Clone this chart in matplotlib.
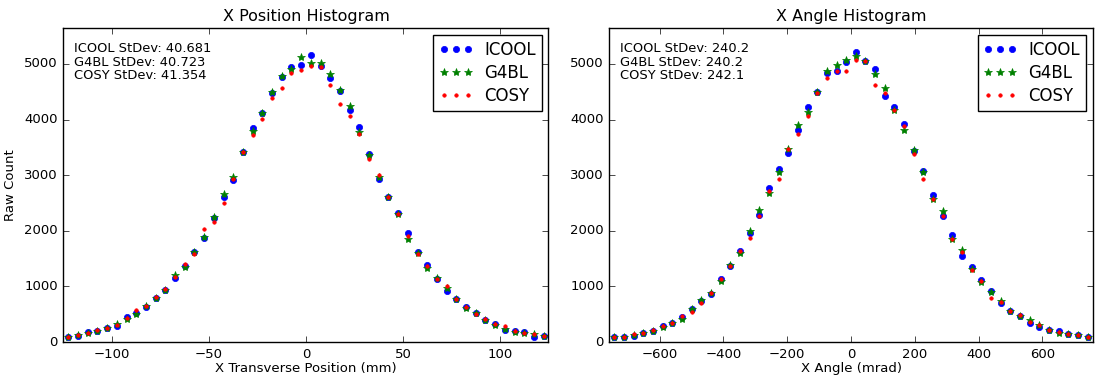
import numpy as np
import matplotlib
matplotlib.use('Agg')
import matplotlib.pyplot as plt

# histogram bins (centres from edges)
pos_lo, pos_hi, n_bins = -125.0, 125.0, 50
ang_lo, ang_hi = -757.5, 757.5

icool_pos = [95, 113, 174, 192, 257, 293, 455, 515, 635, 797, 928, 1144, 1366, 1617, 1863, 2234, 2611, 2911,
             3420, 3851, 4121, 4480, 4774, 4950, 4981, 5166, 4966, 4744, 4517, 4169, 3863, 3378, 2923, 2606,
             2324, 1953, 1617, 1378, 1132, 916, 778, 629, 527, 390, 329, 221, 192, 180, 95, 113]
g4bl_pos = [95, 125, 156, 204, 257, 323, 419, 509, 640, 800, 940, 1204, 1354, 1623, 1892, 2252, 2654, 2959,
            3420, 3792, 4121, 4490, 4780, 4918, 5133, 5010, 5019, 4828, 4528, 4253, 3774, 3355, 2971, 2600,
            2306, 1851, 1600, 1330, 1156, 970, 770, 620, 520, 395, 315, 239, 185, 162, 144, 113]
cosy_pos = [100, 126, 156, 216, 257, 305, 425, 569, 646, 803, 958, 1162, 1396, 1581, 2025, 2162, 2503, 2929,
            3420, 3714, 4013, 4379, 4559, 4839, 4893, 4959, 4940, 4613, 4289, 4056, 3732, 3294, 2995, 2606,
            2306, 1905, 1576, 1366, 1126, 1006, 778, 629, 503, 413, 329, 282, 192, 168, 138, 113]

icool_ang = [95, 84, 113, 167, 203, 282, 341, 449, 593, 743, 868, 1132, 1360, 1641, 1953, 2282, 2773, 3103,
             3402, 3810, 4228, 4498, 4846, 4875, 5031, 5206, 5058, 4906, 4426, 4235, 3912, 3432, 3070, 2650,
             2264, 1917, 1540, 1353, 1114, 916, 695, 563, 473, 341, 264, 221, 198, 149, 126, 95]
g4bl_ang = [95, 90, 120, 167, 203, 267, 335, 407, 590, 750, 875, 1102, 1380, 1600, 1995, 2378, 2672, 3055,
            3468, 3905, 4138, 4498, 4882, 4978, 5080, 5139, 5062, 4816, 4559, 4169, 3815, 3456, 3060, 2575,
            2354, 1851, 1648, 1317, 1078, 893, 743, 563, 473, 390, 311, 221, 156, 140, 126, 95]
cosy_ang = [100, 95, 149, 167, 210, 298, 345, 467, 545, 695, 875, 1132, 1360, 1641, 1869, 2264, 2713, 2924,
            3463, 3738, 4073, 4480, 4739, 4870, 4870, 5073, 5062, 4618, 4469, 4181, 3881, 3390, 2924, 2564,
            2264, 1851, 1617, 1288, 1090, 791, 713, 563, 480, 359, 300, 225, 190, 149, 126, 100]

pos_text = 'ICOOL StDev: 40.681\nG4BL StDev: 40.723\nCOSY StDev: 41.354'
ang_text = 'ICOOL StDev: 240.2\nG4BL StDev: 240.2\nCOSY StDev: 242.1'

def centres(lo, hi, n):
    edges = np.linspace(lo, hi, n + 1)
    return 0.5 * (edges[:-1] + edges[1:])

plt.style.use('classic')
plt.rcParams['figure.facecolor'] = 'white'
plt.rcParams['savefig.facecolor'] = 'white'
plt.rcParams['font.family'] = 'DejaVu Sans'

fig = plt.figure(figsize=(10.98, 3.78), dpi=100)
ax1 = fig.add_axes([0.0578, 0.095, 0.4417, 0.830])
ax2 = fig.add_axes([0.5551, 0.095, 0.4399, 0.830])

panels = [
    (ax1, centres(pos_lo, pos_hi, n_bins), icool_pos, g4bl_pos, cosy_pos, pos_text,
     'X Position Histogram', 'X Transverse Position (mm)', (pos_lo, pos_hi), [-100, -50, 0, 50, 100]),
    (ax2, centres(ang_lo, ang_hi, n_bins), icool_ang, g4bl_ang, cosy_ang, ang_text,
     'X Angle Histogram', 'X Angle (mrad)', (ang_lo, ang_hi), [-600, -400, -200, 0, 200, 400, 600]),
]

for ax, x, ic, g4, co, txt, title, xlab, xlim, xt in panels:
    ax.plot(x, ic, 'bo', ms=4.5, mec='b', mew=0.5, label='ICOOL')
    ax.plot(x, g4, 'g*', ms=6, mec='g', mew=0.5, label='G4BL')
    ax.plot(x, co, 'r.', ms=5, mec='r', mew=0.5, label='COSY')
    ax.set_xlim(*xlim)
    ax.set_ylim(0, 5640)
    ax.set_xticks(xt)
    ax.set_yticks([0, 1000, 2000, 3000, 4000, 5000])
    ax.tick_params(labelsize=9.5)
    ax.set_title(title, fontsize=11.5)
    ax.set_xlabel(xlab, fontsize=9.5, labelpad=1)
    ax.text(0.022, 0.955, txt, transform=ax.transAxes, va='top', ha='left', fontsize=9.4,
            linespacing=1.05)
    ax.legend(loc='upper right', numpoints=3, fontsize=12, handlelength=2,
              borderaxespad=0.4, borderpad=0.35, handletextpad=0.7, labelspacing=0.3)

ax1.set_ylabel('Raw Count', fontsize=9.5)

fig.savefig('out.png', dpi=100)
